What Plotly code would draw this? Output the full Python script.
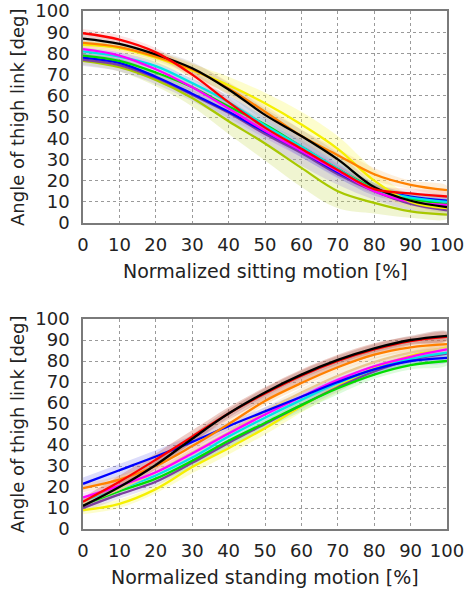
import plotly.graph_objects as go

x_pct = [0, 10, 20, 30, 40, 50, 60, 70, 80, 90, 100]
tick_vals = [0, 10, 20, 30, 40, 50, 60, 70, 80, 90, 100]
tick_text = ["0", "10", "20", "30", "40", "50", "60", "70", "80", "90", "100"]

# ---- Sitting motion (top) ----
sit_yg      = [76.5, 73.5, 67.5, 59, 48, 37.5, 26, 15, 9.5, 5.5, 4]
sit_purple  = [77, 74.5, 68.5, 60.5, 52, 42, 33, 23, 15, 9, 6]
sit_blue    = [78, 75.5, 69, 61, 52.5, 43, 34, 24, 16, 12.5, 10.5]
sit_green   = [79, 76.5, 71, 64, 55, 46.5, 36, 25.5, 16.5, 11.5, 9]
sit_cyan    = [81, 78.5, 74, 66, 57, 46, 36, 25.5, 16, 12, 10]
sit_magenta = [82, 79, 72.5, 64, 54, 43.5, 34, 24.5, 15, 10, 8.5]
sit_yellow  = [84, 82.5, 78, 72, 65, 56.5, 46.5, 35, 20, 10, 7]
sit_orange  = [85, 83, 78.5, 72.5, 63.5, 52.5, 41, 32, 23, 18, 15.5]
sit_black   = [87, 84.5, 79.5, 73, 63, 51, 41, 30, 17, 10.5, 7.5]
sit_red     = [89.5, 86.5, 80.5, 70, 57, 45, 35, 25, 16, 14, 12.5]

sit_yg_sd      = [2, 2, 3, 4, 6, 8, 9, 8, 5, 3, 2]
sit_purple_sd  = [3, 3, 3, 3, 4, 5, 6, 5, 4, 3, 2]
sit_blue_sd    = [2, 2, 2, 2, 3, 3, 3, 3, 2, 2, 2]
sit_green_sd   = [2, 2, 2, 2, 2, 2, 2, 2, 2, 2, 2]
sit_cyan_sd    = [2, 2, 2, 2, 3, 4, 5, 4, 3, 2, 2]
sit_magenta_sd = [2, 2, 2, 2, 3, 3, 3, 3, 2, 2, 2]
sit_yellow_sd  = [2, 2, 3, 3, 4, 5, 6, 6, 5, 3, 2]
sit_orange_sd  = [2, 2, 2, 3, 3, 3, 3, 3, 3, 2, 2]
sit_black_sd   = [2, 2, 2, 3, 3, 3, 3, 3, 2, 2, 2]
sit_red_sd     = [2, 2, 2, 2, 2, 2, 2, 2, 2, 2, 2]

# ---- Standing motion (bottom) ----
std_yellow  = [9, 12, 19, 29.5, 38.5, 48, 58.5, 68, 76.5, 82.5, 86.5]
std_purple  = [10, 16.5, 22.5, 31.5, 41, 50, 59, 67.5, 75, 80.5, 83.5]
std_green   = [11.5, 18, 24, 32.5, 42, 50.5, 59, 67, 73.5, 78, 80]
std_cyan    = [12.5, 19, 25.5, 34, 44, 53, 61.5, 69.5, 76, 81, 84]
std_pale    = [12, 19, 27, 36.5, 46, 56, 65, 73, 79.5, 84, 86]
std_magenta = [15, 20.5, 27, 36, 45.5, 54.5, 63, 71, 77.5, 82, 85.5]
std_blue    = [21.5, 28, 34.5, 41.5, 49, 56, 63, 70, 76, 80, 81.5]
std_orange  = [19.5, 23.5, 30, 39.5, 50, 61, 69.5, 77, 83, 86.5, 88]
std_red     = [13, 22.5, 33, 44, 55, 64.5, 73, 80, 85.5, 89.5, 91.5]
std_black   = [11, 20, 30.5, 43, 55, 65, 73.5, 80.5, 86, 90, 92]

std_yellow_sd  = [2, 2, 2, 3, 3, 3, 3, 3, 2, 2, 2]
std_purple_sd  = [2, 2, 2, 2, 2, 2, 2, 2, 2, 2, 2]
std_green_sd   = [2, 2, 2, 3, 3, 3, 3, 3, 2, 2, 2]
std_cyan_sd    = [2, 2, 2, 2, 2, 2, 2, 2, 2, 2, 2]
std_pale_sd    = [2, 2, 2, 2, 2, 2, 2, 2, 2, 2, 2]
std_magenta_sd = [2, 2, 2, 2, 2, 2, 2, 2, 2, 2, 2]
std_blue_sd    = [3, 3, 3, 3, 2, 2, 2, 2, 2, 2, 2]
std_orange_sd  = [2, 2, 2, 2, 2, 2, 2, 2, 2, 2, 2]
std_red_sd     = [2, 3, 3, 3, 3, 3, 3, 3, 3, 2, 2]
std_black_sd   = [2, 2, 2, 2, 2, 2, 2, 2, 2, 2, 2]

top_series = [
    (sit_yg, sit_yg_sd, "#a8c800", "rgba(200,220,90,0.28)"),
    (sit_purple, sit_purple_sd, "#7b3fa0", "rgba(150,130,220,0.25)"),
    (sit_blue, sit_blue_sd, "#0000ff", "rgba(110,110,240,0.18)"),
    (sit_green, sit_green_sd, "#00dd00", "rgba(120,230,120,0.18)"),
    (sit_cyan, sit_cyan_sd, "#00e5e5", "rgba(90,130,190,0.28)"),
    (sit_magenta, sit_magenta_sd, "#ff00ff", "rgba(240,120,240,0.18)"),
    (sit_yellow, sit_yellow_sd, "#f5f000", "rgba(250,250,90,0.30)"),
    (sit_orange, sit_orange_sd, "#ff8000", "rgba(250,190,110,0.25)"),
    (sit_black, sit_black_sd, "#000000", "rgba(150,150,150,0.20)"),
    (sit_red, sit_red_sd, "#ff0000", "rgba(240,120,120,0.20)"),
]

bot_series = [
    (std_yellow, std_yellow_sd, "#f5f000", "rgba(250,250,90,0.30)"),
    (std_purple, std_purple_sd, "#7b3fa0", "rgba(150,130,220,0.22)"),
    (std_green, std_green_sd, "#00dd00", "rgba(120,240,120,0.25)"),
    (std_cyan, std_cyan_sd, "#00e5e5", "rgba(90,200,220,0.20)"),
    (std_pale, std_pale_sd, "#e8c890", "rgba(230,210,150,0.28)"),
    (std_magenta, std_magenta_sd, "#ff00ff", "rgba(240,120,240,0.20)"),
    (std_blue, std_blue_sd, "#0000ff", "rgba(130,130,240,0.28)"),
    (std_orange, std_orange_sd, "#ff8000", "rgba(250,190,110,0.28)"),
    (std_red, std_red_sd, "#ff0000", "rgba(200,90,70,0.30)"),
    (std_black, std_black_sd, "#000000", "rgba(170,100,90,0.30)"),
]

fig = go.Figure()

def add_group(series, xa, ya):
    for y, sd, lc, bc in series:
        up = [a + b for a, b in zip(y, sd)]
        lo = [a - b for a, b in zip(y, sd)]
        fig.add_trace(go.Scatter(
            x=x_pct + x_pct[::-1], y=up + lo[::-1], fill="toself",
            fillcolor=bc, line=dict(width=0, shape="spline"), mode="lines",
            hoverinfo="skip", showlegend=False, xaxis=xa, yaxis=ya))
    for y, sd, lc, bc in series:
        fig.add_trace(go.Scatter(
            x=x_pct, y=y, mode="lines", line=dict(color=lc, width=2.3, shape="spline"),
            showlegend=False, xaxis=xa, yaxis=ya))

add_group(top_series, "x", "y")
add_group(bot_series, "x2", "y2")

tick_font = dict(family="DejaVu Sans", size=18, color="#222")
title_font = dict(family="DejaVu Sans", size=19, color="#222")
ytitle_font = dict(family="DejaVu Sans", size=18, color="#222")
ax_common = dict(range=[0, 100], tickvals=tick_vals, ticktext=tick_text,
                 showgrid=True, gridcolor="#9a9a9a", griddash="dot", gridwidth=1,
                 showline=True, mirror=True, linecolor="#7a7a7a", linewidth=1.5,
                 zeroline=False, ticks="", tickfont=tick_font, automargin=False,
                 ticklabeloverflow="allow")

top_dom = [0.5907, 1.0]
bot_dom = [0.0, 0.4054]

fig.update_layout(
    width=464, height=593,
    margin=dict(l=83, r=17, t=11, b=64),
    paper_bgcolor="white", plot_bgcolor="white",
    xaxis=dict(domain=[0, 1], anchor="y", ticklabelstandoff=5, **ax_common),
    yaxis=dict(domain=top_dom, anchor="x", ticklabelstandoff=8, **ax_common),
    xaxis2=dict(domain=[0, 1], anchor="y2", ticklabelstandoff=5, **ax_common),
    yaxis2=dict(domain=bot_dom, anchor="x2", ticklabelstandoff=8, **ax_common),
    annotations=[
        dict(text="Normalized sitting motion [%]", xref="paper", yref="paper",
             x=0.5, y=top_dom[0], yshift=-48, yanchor="middle", showarrow=False, font=title_font),
        dict(text="Normalized standing motion [%]", xref="paper", yref="paper",
             x=0.5, y=bot_dom[0], yshift=-48, yanchor="middle", showarrow=False, font=title_font),
        dict(text="Angle of thigh link [deg]", xref="paper", yref="paper",
             x=(17 - 83) / 364, y=(top_dom[0] + top_dom[1]) / 2, textangle=-90,
             xanchor="center", yanchor="middle", showarrow=False, font=ytitle_font),
        dict(text="Angle of thigh link [deg]", xref="paper", yref="paper",
             x=(17 - 83) / 364, y=(bot_dom[0] + bot_dom[1]) / 2, textangle=-90,
             xanchor="center", yanchor="middle", showarrow=False, font=ytitle_font),
    ],
)

fig.write_html("out.html", config={"displayModeBar": False},
               post_script="document.body.style.margin='0';document.body.style.padding='0';")
